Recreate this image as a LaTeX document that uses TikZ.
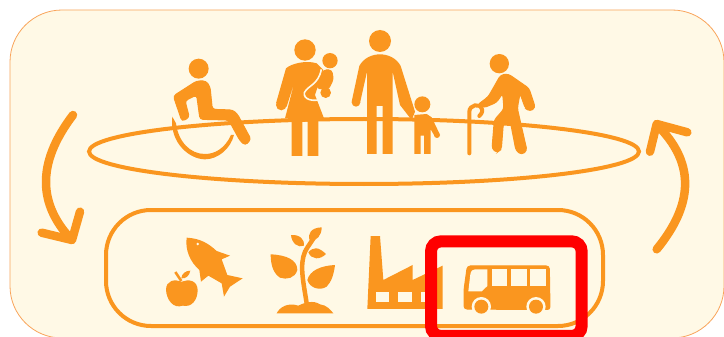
\documentclass[tikz,border=0pt]{standalone}
\definecolor{iconorange}{HTML}{FA961F}
\definecolor{panelcream}{HTML}{FFF9E6}
\definecolor{panelline}{HTML}{F9A55C}

\begin{document}
\begin{tikzpicture}[
    x=1pt,y=-1pt,
    panel/.style={draw=panelline,fill=panelcream,line width=0.8pt,rounded corners=52pt},
    outline/.style={draw=iconorange,line width=4pt},
    turn/.style={draw=iconorange,line width=8.5pt,line cap=round,line join=round},
    icon/.style={fill=iconorange},
    limb/.style={fill=iconorange,draw=iconorange,line width=1pt,rounded corners=3pt},
    gap/.style={fill=panelcream},
    peoplefront/.style={shift={(150,20)},scale=1/3},
    peopleback/.style={shift={(380,40)},scale=1/3},
    foodplant/.style={shift={(140,215)},scale=1/3},
    factorybus/.style={shift={(350,215)},scale=1/3}
]
\clip (0,0) rectangle (724,337);
\fill[white] (0,0) rectangle (724,337);

\draw[panel] (10,10) rectangle (724,338);
\draw[outline] (364,151.5) ellipse [x radius=275,y radius=32.5];
\draw[outline,rounded corners=45pt] (106,210) rectangle (603,326);

\draw[turn] (73,115) .. controls (35,165) and (40,205) .. (70,238);
\draw[turn] (41.7,232.7) -- (72,240) -- (80,211.7);
\draw[turn] (656.7,249.3) .. controls (693,205) and (695,165) .. (660,128);
\draw[turn] (650,151.7) -- (656.7,124) -- (687.3,132.3);

\begin{scope}[peoplefront]
\fill[icon] (146,146) circle [radius=30];
\fill[limb] (70,228) -- (140,183) -- (168,183) -- (180,200) -- (187,268) -- (248,270) -- (262,282) -- (303,358) -- (286,376) -- (270,362) -- (236,300) -- (150,298) -- (140,225) -- (105,242) -- (118,292) -- (96,304) -- cycle;
\fill[icon] (67,290) .. controls (58,370) and (120,418) .. (165,418) .. controls (205,418) and (242,385) .. (252,345) -- (243,345) .. controls (225,385) and (195,402) .. (165,402) .. controls (120,402) and (85,365) .. (78,310) -- cycle;
\fill[icon] (465,90) circle [radius=32];
\fill[icon] (408,145) .. controls (425,130) and (470,120) .. (500,130) -- (520,150) -- (495,225) -- (522,295) -- (505,295) -- (505,408) -- (473,408) -- (473,305) -- (457,305) -- (457,408) -- (425,408) -- (425,295) -- (405,295) -- (435,180) -- (410,260) -- (378,250) -- cycle;
\fill[icon] (394,255) circle [radius=16];
\fill[icon] (540,122) circle [radius=23];
\fill[limb] (520,150) -- (545,150) -- (550,178) -- (535,208) -- (500,205) -- cycle;
\draw[panelcream,line width=1.6pt] (514,148) .. controls (505,195) and (475,195) .. (463,218) .. controls (460,240) and (490,245) .. (515,238);
\fill[icon] (527,218) circle [radius=16];
\end{scope}

\begin{scope}[peopleback]
\fill[icon] (0,3) circle [radius=33];
\fill[icon] (0,43) .. controls (25,43) and (50,55) .. (62,78) -- (105,215) -- (95,240) -- (60,195) -- (38,95) -- (38,342) -- (8,342) -- (8,198) -- (-10,198) -- (-10,342) -- (-39,342) -- (-39,95) -- (-60,189) -- (-85,185) -- (-62,78) .. controls (-50,55) and (-25,43) .. (0,43) -- cycle;
\fill[icon] (-72,187) circle [radius=13];
\fill[icon] (127,193) circle [radius=24];
\fill[icon] (103,225) -- (140,222) -- (155,232) -- (178,280) -- (165,290) -- (152,268) -- (152,342) -- (132,342) -- (132,287) -- (122,287) -- (122,342) -- (103,342) -- cycle;
\fill[icon] (171,285) circle [radius=9];
\fill[icon] (358,71) circle [radius=29];
\fill[limb] (362,105) -- (385,102) -- (447,145) -- (466,203) -- (450,214) -- (436,205) -- (420,160) -- (412,205) -- (441,332) -- (425,344) -- (408,332) -- (390,240) -- (370,250) -- (364,328) -- (350,338) -- (336,326) -- (343,240) -- (372,207) -- (368,160) -- (350,187) -- (312,203) -- (292,195) -- (325,170) -- cycle;
\draw[iconorange,line width=4pt,line cap=round] (268,340) -- (268,215) .. controls (268,195) and (300,187) .. (306,208) .. controls (308,218) and (302,224) .. (298,228);
\end{scope}

\begin{scope}[foodplant]
\fill[icon] (125,200) .. controls (145,192) and (172,195) .. (173,225) .. controls (173,255) and (155,278) .. (128,272) .. controls (100,282) and (80,255) .. (78,225) .. controls (78,195) and (105,192) .. (125,200) -- cycle;
\draw[iconorange,line width=2.5pt] (106,171) -- (124,198);
\fill[icon] (124,190) .. controls (125,175) and (138,167) .. (151,167) .. controls (148,182) and (138,192) .. (124,190) -- cycle;
\fill[icon] (140,68) .. controls (180,70) and (205,85) .. (230,108) -- (270,122) -- (245,133) -- (262,180) -- (308,190) -- (270,215) -- (252,245) -- (245,205) -- (205,182) -- (183,200) -- (178,165) .. controls (150,140) and (135,105) .. (140,68) -- cycle;
\fill[gap] (173,87) circle [radius=4];
\draw[iconorange,line width=4.5pt] (500,265) .. controls (490,200) and (478,150) .. (495,110) .. controls (505,90) and (520,75) .. (525,60);
\fill[icon] (392,118) .. controls (440,120) and (472,135) .. (472,165) .. controls (465,190) and (440,195) .. (420,188) .. controls (400,175) and (392,150) .. (392,118) -- cycle;
\fill[icon] (585,150) .. controls (545,152) and (510,165) .. (502,195) .. controls (510,220) and (540,228) .. (560,215) .. controls (575,200) and (582,175) .. (585,150) -- cycle;
\fill[icon] (453,60) .. controls (480,58) and (495,75) .. (492,92) .. controls (475,100) and (455,85) .. (453,60) -- cycle;
\fill[icon] (505,112) .. controls (520,95) and (535,95) .. (558,117) .. controls (540,135) and (515,135) .. (505,112) -- cycle;
\fill[icon] (545,37) .. controls (515,38) and (500,55) .. (510,78) .. controls (530,78) and (545,62) .. (545,37) -- cycle;
\fill[icon] (410,295) .. controls (420,275) and (445,262) .. (475,272) .. controls (495,262) and (520,255) .. (540,268) .. controls (560,270) and (572,285) .. (580,295) -- cycle;
\end{scope}

\begin{scope}[factorybus]
\fill[icon] (52,282) -- (62,63) -- (90,63) -- (100,195) -- (188,150) -- (188,195) -- (278,152) -- (278,282) -- cycle;
\fill[gap] (78,230) rectangle (118,260);
\fill[gap] (145,230) rectangle (185,260);
\fill[gap] (212,230) rectangle (250,260);
\draw[red,line width=12pt,rounded corners=10pt] (243,79) rectangle (695,363);
\fill[limb] (342,282) -- (342,225) -- (352,153) -- (598,153) -- (600,284) -- cycle;
\fill[gap] (355,229) -- (361,178) .. controls (363,168) and (367,163) .. (375,163) -- (412,163) -- (412,213) -- (395,229) -- cycle;
\fill[gap] (425,163) rectangle (472,212);
\fill[gap] (483,163) rectangle (530,212);
\fill[gap] (541,163) rectangle (588,212);
\fill[gap] (394,275) circle [radius=29];
\fill[gap] (558,275) circle [radius=29];
\fill[gap] (340,285) rectangle (602,300);
\fill[icon] (394,275) circle [radius=21];
\fill[icon] (558,275) circle [radius=21];
\end{scope}
\end{tikzpicture}
\end{document}
